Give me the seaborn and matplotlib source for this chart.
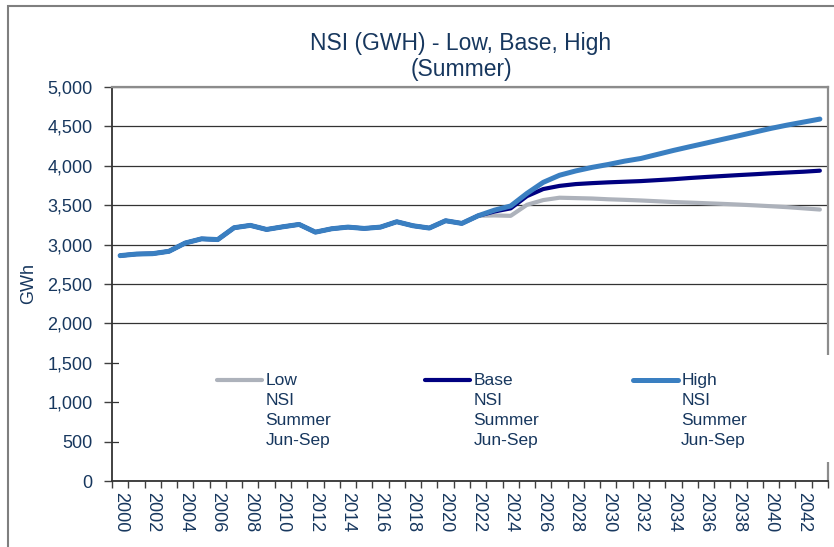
import numpy as np
import pandas as pd
import seaborn as sns
import matplotlib.pyplot as plt
from matplotlib.patches import Rectangle
from matplotlib.legend_handler import HandlerLine2D
from matplotlib.ticker import FuncFormatter

sns.set_style('white')
plt.rcParams['font.family'] = ['Liberation Sans', 'DejaVu Sans']

TXT = '#17375E'

# historical values 2000-2022 (shared by all scenarios)
hist_years = list(range(2000, 2023))
hist_gwh = [2860, 2880, 2885, 2915, 3020, 3073, 3064, 3214, 3244, 3192, 3226, 3256,
            3158, 3201, 3222, 3205, 3222, 3290, 3239, 3210, 3303, 3269, 3366]

# forecast values 2023-2043
fc_years = list(range(2023, 2044))
low = [3370, 3365, 3505, 3565, 3595, 3590, 3585, 3575, 3568, 3560, 3550, 3540,
       3533, 3525, 3517, 3508, 3498, 3487, 3475, 3460, 3445]
base = [3420, 3460, 3615, 3705, 3745, 3768, 3780, 3790, 3798, 3806, 3818, 3830,
        3845, 3858, 3870, 3882, 3893, 3905, 3915, 3925, 3938]
high = [3437, 3490, 3650, 3790, 3880, 3935, 3980, 4017, 4059, 4093, 4144, 4195,
        4242, 4288, 4335, 4381, 4428, 4475, 4517, 4555, 4593]

scenarios = ['Low', 'Base', 'High']
colors = {'Low': '#ADB2BB', 'Base': '#000080', 'High': '#3A7FC1'}
widths = {'Low': 3.0, 'Base': 3.0, 'High': 3.6}
legend_labels = [f'{s}\nNSI\nSummer\nJun-Sep' for s in scenarios]

rows = []
for name, vals in zip(scenarios, [low, base, high]):
    for y, v in zip(hist_years + fc_years, hist_gwh + vals):
        rows.append([name, y, v])
df = pd.DataFrame(rows, columns=['scenario', 'year', 'GWh'])

fig = plt.figure(figsize=(8.34, 5.47), dpi=100)
ax = fig.add_axes([112 / 834, 1 - 481 / 547, 716 / 834, 394 / 547])

for name in scenarios:
    sns.lineplot(data=df[df['scenario'] == name], x='year', y='GWh', color=colors[name],
                 lw=widths[name], ax=ax, label=name, solid_capstyle='round', zorder=3)

ax.set_xlim(1999.5, 2043.5)
ax.set_ylim(0, 5000)
ax.set_yticks(np.arange(0, 5001, 500))
ax.yaxis.set_major_formatter(FuncFormatter(lambda v, p: f'{v:,.0f}'))
ax.set_xticks(range(2000, 2044, 2))
ax.set_xticklabels([str(y) for y in range(2000, 2044, 2)], rotation=270)
ax.set_xticks(np.arange(1999.5, 2044, 1), minor=True)

ax.tick_params(axis='y', direction='out', length=6, width=1, color='#404040', pad=8,
               labelsize=13, labelcolor=TXT, left=True)
ax.tick_params(axis='x', which='major', length=0, pad=8, labelsize=13, labelcolor=TXT)
ax.tick_params(axis='x', which='minor', direction='out', length=5, width=1,
               color='#404040', bottom=True)

ax.grid(True, axis='y', color='#333333', lw=0.9)
ax.set_axisbelow(True)

for side in ['left', 'bottom']:
    ax.spines[side].set_color('#333333')
    ax.spines[side].set_linewidth(1.3)
for side in ['top', 'right']:
    ax.spines[side].set_color('#8c8c8c')
    ax.spines[side].set_linewidth(1.6)

ax.set_xlabel('')
ax.set_ylabel('GWh', fontsize=13, color=TXT)
ax.yaxis.set_label_coords((37 - 112) / 716, 0.5)

fig.text(461 / 834, 1 - 56.5 / 547, 'NSI (GWH) - Low, Base, High\n(Summer)',
         ha='center', va='center', fontsize=16.5, color=TXT, linespacing=1.22)

# white legend area, as in the reference
ax.add_patch(Rectangle((0.01, (481 - 462) / 394), 1.01, (462 - 355) / 394,
                       transform=ax.transAxes, facecolor='white', edgecolor='none',
                       clip_on=False, zorder=2.7))

LEG_FS = 12.5
LEG_LS = 1.42
# handle sits at the middle of the 4-line label; lift it to the first line
SHIFT = 1.5 * 0.818 * LEG_FS * LEG_LS


class TopHandler(HandlerLine2D):
    def create_artists(self, legend, orig_handle, xdescent, ydescent, width, height,
                       fontsize, trans):
        arts = super().create_artists(legend, orig_handle, xdescent, ydescent, width,
                                      height, fontsize, trans)
        for a in arts:
            a.set_ydata(np.asarray(a.get_ydata()) + SHIFT)
        return arts


handles, _ = ax.get_legend_handles_labels()
leg = ax.legend(handles, legend_labels, ncol=3, loc='upper left',
                bbox_to_anchor=((217 - 112) / 716, (481 - 373) / 394),
                frameon=False, fontsize=LEG_FS, handlelength=2.6, handletextpad=0.2,
                columnspacing=5.38, borderpad=0, borderaxespad=0,
                handler_map={h: TopHandler() for h in handles})
leg.set_zorder(5)
for t in leg.get_texts():
    t.set_color(TXT)
    t.set_linespacing(LEG_LS)

# outer chart border (cropped at right and bottom)
fig.add_artist(Rectangle((7.5 / 834, -0.1), 1.5, 0.1 + 1 - 6 / 547,
                         transform=fig.transFigure, fill=False,
                         edgecolor='#7f7f7f', lw=1.5))

fig.savefig('out.png', dpi=100)
